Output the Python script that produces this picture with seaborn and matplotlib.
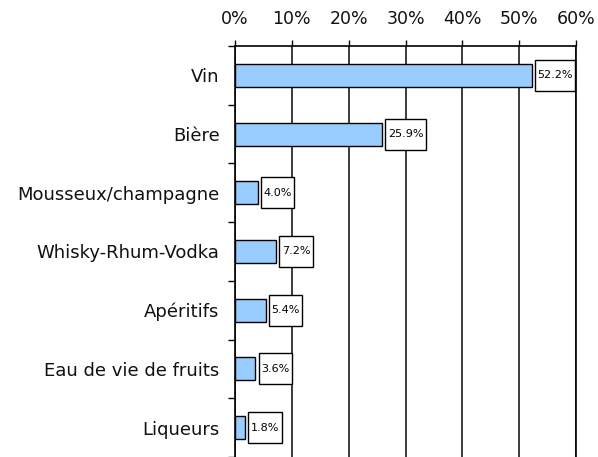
import matplotlib
matplotlib.use("Agg")
import matplotlib.pyplot as plt
import seaborn as sns
import pandas as pd
from matplotlib.patches import Rectangle
from matplotlib.ticker import FixedLocator, PercentFormatter

categories = ["Vin", "Bière", "Mousseux/champagne", "Whisky-Rhum-Vodka",
              "Apéritifs", "Eau de vie de fruits", "Liqueurs"]
values = [52.2, 25.9, 4.0, 7.2, 5.4, 3.6, 1.8]
xticks = [0, 10, 20, 30, 40, 50, 60]

sns.set_theme(style="white")
plt.rcParams["font.family"] = ["DejaVu Sans"]

df = pd.DataFrame({"cat": categories, "val": values})

fig = plt.figure(figsize=(5.98, 4.57), dpi=100)
ax = fig.add_axes([235/598, 0.0, 341/598, 411/457])

sns.barplot(data=df, x="val", y="cat", orient="h", color="#99CCFF",
            saturation=1, edgecolor="black", linewidth=1, width=0.39, ax=ax)

ax.set_xlim(0, 60)
ax.set_ylim(6.5, -0.5)
ax.set_xlabel("")
ax.set_ylabel("")
ax.xaxis.tick_top()
ax.set_xticks(xticks)
ax.xaxis.set_major_formatter(PercentFormatter(decimals=0))
ax.tick_params(axis="x", which="major", direction="out", length=4, width=1,
               color="black", pad=9, labelsize=12.5, labelcolor="#111111",
               top=True, bottom=False)
ax.tick_params(axis="y", which="major", length=0, pad=11, labelsize=13,
               labelcolor="#111111")
ax.yaxis.set_minor_locator(FixedLocator([i - 0.5 for i in range(len(categories) + 1)]))
ax.tick_params(axis="y", which="minor", direction="out", length=5, width=1,
               color="black", left=True)

ax.grid(axis="x", color="#1a1a1a", linewidth=1.2)
ax.set_axisbelow(True)
for side in ["top", "left", "right"]:
    ax.spines[side].set_visible(True)
    ax.spines[side].set_color("black")
    ax.spines[side].set_linewidth(1.2)
ax.spines["bottom"].set_visible(False)

# value labels with boxes
texts = []
for i, v in enumerate(values):
    t = ax.text(v + 0.55 + 0.45, i, f"{v:.1f}%", ha="left", va="center",
                fontsize=8, color="black", zorder=5, clip_on=False)
    texts.append(t)

fig.canvas.draw()
renderer = fig.canvas.get_renderer()
inv = ax.transData.inverted()
for i, (v, t) in enumerate(zip(values, texts)):
    bb = t.get_window_extent(renderer)
    (x0, _), (x1, _) = inv.transform([(bb.x0, bb.y0), (bb.x1, bb.y1)])
    x_left = v + 0.55
    x_right = x1 + 0.45
    ax.add_patch(Rectangle((x_left, i - 0.265), x_right - x_left, 0.53,
                           facecolor="white", edgecolor="black", linewidth=1,
                           zorder=4, clip_on=False))

fig.savefig("out.png", dpi=100)
